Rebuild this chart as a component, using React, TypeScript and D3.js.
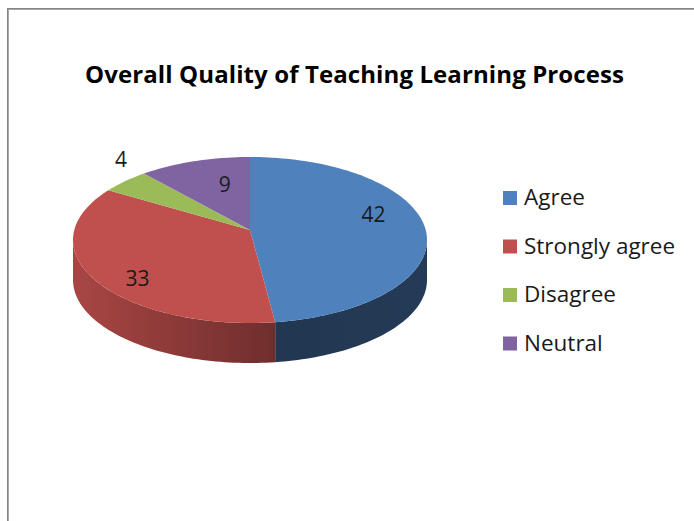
import React from "react";
import * as d3 from "d3";

const title = "Overall Quality of Teaching Learning Process";
const categories = ["Agree", "Strongly agree", "Disagree", "Neutral"];
const values = [42, 33, 4, 9];
const colors = ["#4F81BD", "#C0504D", "#9BBB59", "#8064A2"];

// style / layout (not data)
const sideShade: [number, number][] = [
  [0.38, 0.46],
  [0.88, 0.35],
  [0.7, 0.4],
  [0.7, 0.4],
];
const labelOutside = [false, false, true, false];
const labelNudge: [number, number][] = [
  [0, -21],
  [-6, 9],
  [15, -13],
  [14, 0],
];

const W = 694;
const H = 521;
const cx = 250;
const cy = 240;
const rx = 177;
const ry = 83;
const depth = 40;
const apexY = cy - 10;
const FONT = "'Open Sans', Lato, 'DejaVu Sans', sans-serif";

function rim(a: number, dy = 0): [number, number] {
  return [cx + rx * Math.sin(a), cy - ry * Math.cos(a) + dy];
}

function samples(a0: number, a1: number): number[] {
  const n = Math.max(2, Math.ceil(((a1 - a0) / (2 * Math.PI)) * 240));
  const out: number[] = [];
  for (let i = 0; i <= n; i++) out.push(a0 + ((a1 - a0) * i) / n);
  return out;
}

function shade(c: string, k: number): string {
  const r = d3.rgb(c);
  return d3.rgb(r.r * k, r.g * k, r.b * k).formatHex();
}

export default function App() {
  const pie = d3
    .pie<number>()
    .sort(null)
    .value((d) => d)
    .startAngle(0)
    .endAngle(2 * Math.PI);
  const arcs = pie(values);
  const line = d3.line<[number, number]>();

  const sides: React.ReactNode[] = [];
  const tops: React.ReactNode[] = [];
  const labels: React.ReactNode[] = [];

  arcs.forEach((a, i) => {
    const pts: [number, number][] = [[cx, apexY]];
    samples(a.startAngle, a.endAngle).forEach((t) => pts.push(rim(t)));
    tops.push(<path key={"t" + i} d={line(pts) + "Z"} fill={colors[i]} />);
    const s0 = Math.max(a.startAngle, Math.PI / 2);
    const s1 = Math.min(a.endAngle, (3 * Math.PI) / 2);
    if (s1 > s0) {
      const ang = samples(s0, s1);
      const sp: [number, number][] = ang.map((t) => rim(t));
      ang
        .slice()
        .reverse()
        .forEach((t) => sp.push(rim(t, depth)));
      sides.push(
        <path key={"s" + i} d={line(sp) + "Z"} fill={`url(#side${i})`} />
      );
    }
    const mid = (a.startAngle + a.endAngle) / 2;
    const k = labelOutside[i] ? 1.15 : 0.7;
    const lx = cx + Math.sin(mid) * rx * k + labelNudge[i][0];
    const ly = cy - Math.cos(mid) * ry * k + labelNudge[i][1];
    labels.push(
      <text
        key={"l" + i}
        x={lx}
        y={ly}
        dy="0.36em"
        textAnchor="middle"
        fontFamily={FONT}
        fontSize={21}
        fill="#1a1a1a"
      >
        {values[i]}
      </text>
    );
  });

  const legendX = 503;
  const legendY0 = 191;
  const legendStep = 48.5;

  return (
    <svg
      width={W}
      height={H}
      style={{ position: "absolute", left: 0, top: 0, background: "#fff" }}
    >
      <defs>
        {colors.map((c, i) => (
          <linearGradient
            key={i}
            id={`side${i}`}
            gradientUnits="userSpaceOnUse"
            x1={cx - rx}
            x2={cx + rx}
            y1={0}
            y2={0}
          >
            <stop offset="0" stopColor={shade(c, sideShade[i][0])} />
            <stop offset="1" stopColor={shade(c, sideShade[i][1])} />
          </linearGradient>
        ))}
      </defs>
      <rect x={0} y={0} width={W} height={H} fill="#fff" />
      <line x1={7.5} y1={8} x2={7.5} y2={H} stroke="#858585" strokeWidth={1} />
      <line x1={8.5} y1={9} x2={8.5} y2={H} stroke="#a8a8a8" strokeWidth={1} />
      <line x1={7} y1={8.5} x2={W} y2={8.5} stroke="#858585" strokeWidth={1} />
      <line x1={8} y1={9.5} x2={W} y2={9.5} stroke="#a8a8a8" strokeWidth={1} />

      <text
        x={85}
        y={83}
        textLength={539}
        lengthAdjust="spacing"
        fontFamily={FONT}
        fontWeight="bold"
        fontSize={24}
        fill="#000"
      >
        {title}
      </text>

      {sides}
      {tops}
      {labels}

      {categories.map((c, i) => (
        <g key={c} transform={`translate(${legendX},${legendY0 + i * legendStep})`}>
          <rect x={0} y={0} width={14} height={14} fill={colors[i]} />
          <text x={21} y={14} fontFamily={FONT} fontSize={22.5} fill="#1a1a1a">
            {c}
          </text>
        </g>
      ))}
    </svg>
  );
}
